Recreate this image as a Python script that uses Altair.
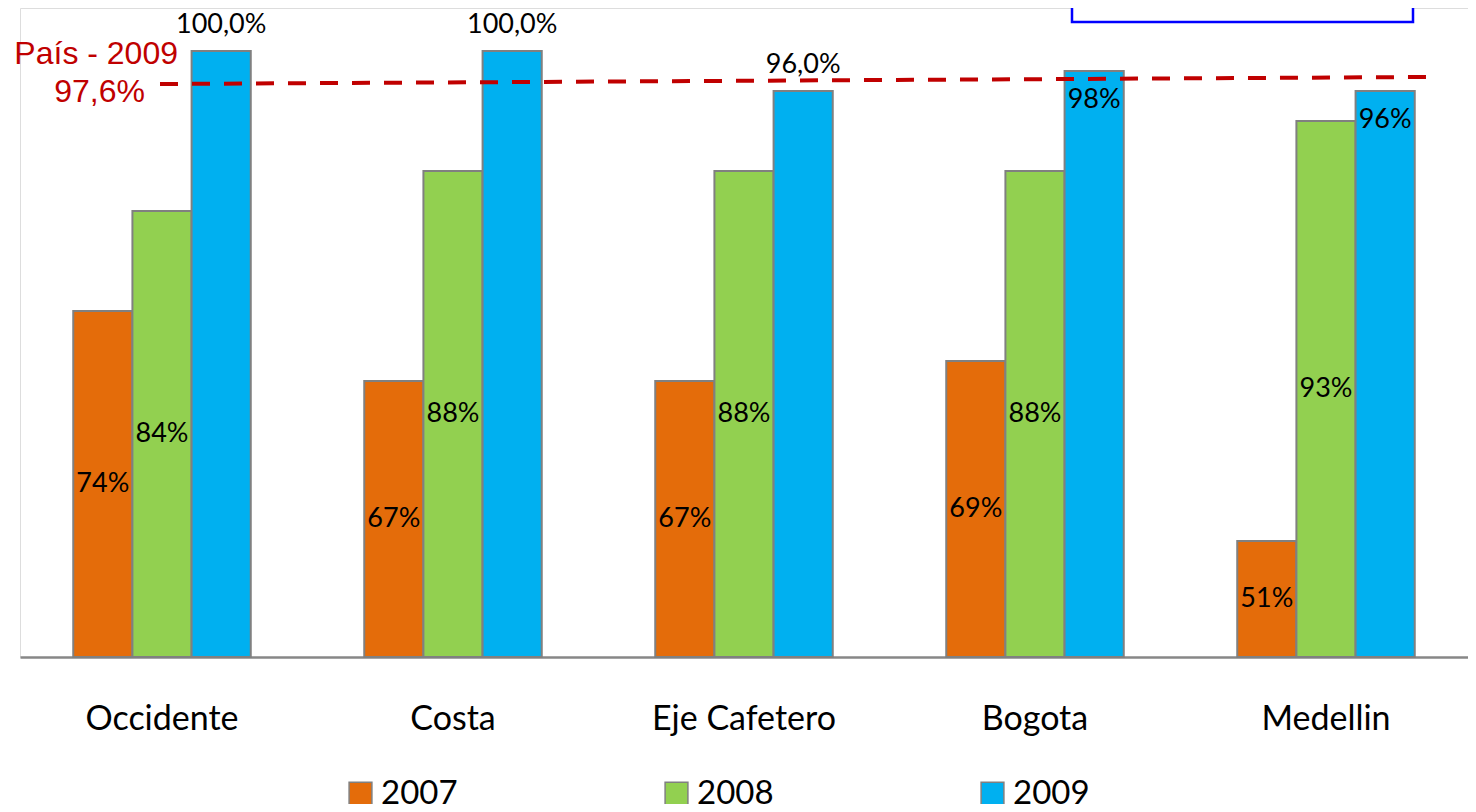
import altair as alt
import pandas as pd

regions = ["Occidente", "Costa", "Eje Cafetero", "Bogota", "Medellin"]
years = ["2007", "2008", "2009"]
v2007 = [74, 67, 67, 69, 51]
v2008 = [84, 88, 88, 88, 93]
v2009 = [100, 100, 96, 98, 96]
lab2007 = ["74%", "67%", "67%", "69%", "51%"]
lab2008 = ["84%", "88%", "88%", "88%", "93%"]
lab2009 = ["100,0%", "100,0%", "96,0%", "98%", "96%"]
colors = ["#E46C0A", "#92D050", "#00B0F0"]
pais_label = "País - 2009"
pais_value_label = "97,6%"
ref_line_y = [96.7, 97.4]
y_min, y_max = 39.4, 104.3

rows = []
for vals, labs, yr in [(v2007, lab2007, "2007"), (v2008, lab2008, "2008"), (v2009, lab2009, "2009")]:
    for r, v, l in zip(regions, vals, labs):
        rows.append({"region": r, "year": yr, "value": v, "label": l})
df = pd.DataFrame(rows)

FONT = "Lato"

x_enc = alt.X("region:N", sort=regions,
              scale=alt.Scale(paddingInner=0.39, paddingOuter=0.183),
              axis=alt.Axis(title=None, labelFont=FONT, labelFontSize=34, labelColor="black",
                            labelAngle=0, ticks=False, labelPadding=45, labelLimit=400,
                            domainColor="#878787", domainWidth=2.5, grid=False))
y_scale = alt.Scale(domain=[y_min, y_max], zero=False, nice=False)

base = alt.Chart(df)

bars = base.mark_bar(stroke="#808080", strokeWidth=2).encode(
    x=x_enc,
    xOffset=alt.XOffset("year:N", sort=years, scale=alt.Scale(paddingInner=0, paddingOuter=0)),
    y=alt.Y("value:Q", scale=y_scale, axis=None),
    y2=alt.datum(y_min),
    color=alt.Color("year:N", sort=years, scale=alt.Scale(domain=years, range=colors),
                    legend=alt.Legend(title=None, orient="none", legendX=324, legendY=769,
                                      direction="horizontal", symbolType="square",
                                      symbolSize=520, symbolStrokeColor="#808080",
                                      symbolStrokeWidth=1.5, symbolOpacity=1,
                                      labelFont=FONT, labelFontSize=33, labelColor="black",
                                      labelOffset=4, columnPadding=202, padding=0)),
)

labels = base.transform_calculate(
    pos=f"datum.year != '2009' ? (datum.value + {y_min}) / 2 : (indexof(datum.label, ',') >= 0 ? datum.value + 2.6 : datum.value - 2.9)"
).mark_text(font=FONT, fontSize=27, color="black", baseline="middle").encode(
    x=alt.X("region:N", sort=regions),
    xOffset=alt.XOffset("year:N", sort=years),
    y=alt.Y("pos:Q", scale=y_scale),
    text="label:N",
)

ref_df = pd.DataFrame({"y0": [ref_line_y[0]], "y1": [ref_line_y[1]]})
rule = alt.Chart(ref_df).mark_rule(color="#C00000", strokeWidth=4, strokeDash=[18, 14]).encode(
    x=alt.value(140), x2=alt.value(1410),
    y=alt.Y("y0:Q", scale=y_scale), y2="y1:Q",
)

txt1 = alt.Chart(pd.DataFrame({"t": [pais_label]})).mark_text(
    font="Liberation Sans", fontSize=32, color="#C00000", align="right", baseline="middle"
).encode(x=alt.value(158), y=alt.value(46), text="t:N")
txt2 = alt.Chart(pd.DataFrame({"t": [pais_value_label]})).mark_text(
    font="Liberation Sans", fontSize=32, color="#C00000", align="right", baseline="middle"
).encode(x=alt.value(125), y=alt.value(84), text="t:N")

box = alt.Chart(pd.DataFrame({"a": [1]})).mark_rect(fill="white", stroke="#0000FF", strokeWidth=2.5).encode(
    x=alt.value(1052), x2=alt.value(1393), y=alt.value(-20), y2=alt.value(14)
)

chart = alt.layer(bars, labels, rule, txt1, txt2, box).properties(
    width=1448, height=649,
    autosize=alt.AutoSizeParams(type="none"),
    padding={"left": 12, "top": 0, "right": 0, "bottom": 147},
).configure_view(stroke=None).configure(background="white")

chart.save("out.html", embed_options={"renderer": "svg", "actions": False})
